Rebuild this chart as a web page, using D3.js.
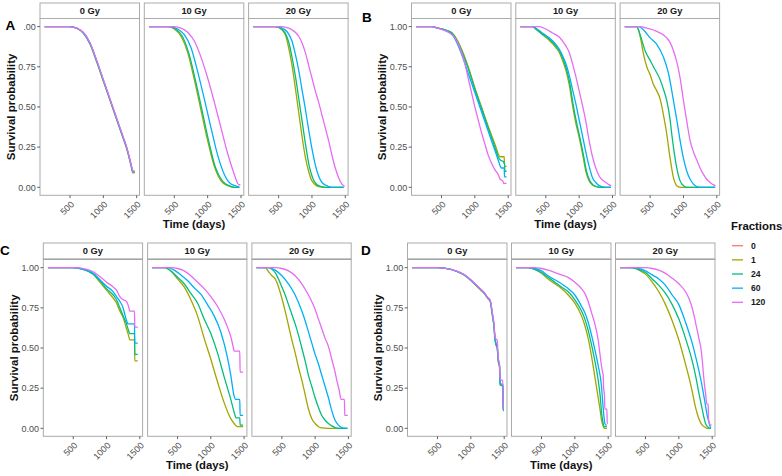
<!DOCTYPE html>
<html><head><meta charset="utf-8">
<script src="https://cdn.jsdelivr.net/npm/d3@7"></script>
<style>body{margin:0;background:#fff}svg{display:block}text{font-family:"Liberation Sans",Arial,sans-serif}</style>
</head><body>
<script>
// ---------- labels / categories ----------
const fractions = ["0","1","24","60","120"];
const fracColors = ["#F8766D","#A3A500","#00BF7D","#00B0F6","#E76BF3"];
const doses = ["0 Gy","10 Gy","20 Gy"];
const yTicks = [0,0.25,0.5,0.75,1];
const xTicks = [500,1000,1500];
const xDomain = [50,1542];

// ---------- data: [day, survival] ----------
// Figure A
const A0_f1   = [[120,1],[500,1],[600,0.99],[700,0.96],[800,0.89],[900,0.78],[1000,0.66],[1100,0.54],[1200,0.42],[1300,0.30],[1350,0.24],[1400,0.16],[1430,0.11],[1440,0.09],[1470,0.09]];
const A0_f24  = [[120,1],[500,1],[600,0.99],[700,0.96],[800,0.895],[900,0.785],[1000,0.665],[1100,0.545],[1200,0.425],[1300,0.305],[1350,0.245],[1400,0.165],[1430,0.11],[1440,0.095],[1470,0.095]];
const A0_f60  = [[120,1],[500,1],[600,0.99],[700,0.962],[800,0.897],[900,0.787],[1000,0.667],[1100,0.547],[1200,0.427],[1300,0.307],[1350,0.247],[1400,0.167],[1430,0.115],[1440,0.10],[1470,0.10]];
const A0_f120 = [[120,1],[500,1],[600,0.99],[700,0.965],[800,0.90],[900,0.79],[1000,0.67],[1100,0.55],[1200,0.43],[1300,0.31],[1350,0.25],[1400,0.17],[1430,0.12],[1440,0.10],[1470,0.10]];

const A10_f1   = [[120,1],[400,1],[500,0.985],[600,0.94],[700,0.84],[800,0.67],[900,0.48],[1000,0.29],[1100,0.13],[1200,0.04],[1300,0.01],[1400,0],[1475,0]];
const A10_f24  = [[120,1],[420,1],[520,0.985],[620,0.94],[720,0.83],[820,0.66],[920,0.47],[1020,0.28],[1120,0.12],[1220,0.04],[1320,0.01],[1400,0],[1475,0]];
const A10_f60  = [[120,1],[450,1],[550,0.985],[650,0.95],[750,0.87],[850,0.72],[950,0.55],[1050,0.37],[1150,0.20],[1250,0.08],[1350,0.02],[1450,0.005],[1475,0]];
const A10_f120 = [[120,1],[500,1],[600,0.99],[700,0.965],[800,0.91],[900,0.81],[1000,0.68],[1100,0.53],[1200,0.37],[1300,0.21],[1400,0.08],[1450,0.025],[1470,0.016],[1490,0.016]];

const A20_f1   = [[120,1],[450,1],[550,0.98],[600,0.95],[650,0.87],[700,0.76],[750,0.62],[800,0.47],[850,0.32],[900,0.19],[950,0.10],[1000,0.04],[1100,0.005],[1200,0],[1475,0]];
const A20_f24  = [[120,1],[460,1],[560,0.98],[610,0.95],[660,0.89],[710,0.79],[760,0.67],[810,0.53],[860,0.39],[910,0.25],[960,0.13],[1010,0.06],[1100,0.01],[1200,0],[1475,0]];
const A20_f60  = [[120,1],[480,1],[580,0.985],[650,0.955],[700,0.91],[750,0.83],[800,0.73],[850,0.61],[900,0.49],[950,0.36],[1000,0.24],[1050,0.14],[1100,0.07],[1150,0.03],[1250,0.005],[1300,0],[1475,0]];
const A20_f120 = [[120,1],[550,1],[650,0.99],[700,0.98],[750,0.965],[800,0.94],[850,0.90],[900,0.84],[950,0.76],[1000,0.68],[1050,0.60],[1100,0.53],[1150,0.45],[1200,0.37],[1250,0.29],[1300,0.20],[1350,0.12],[1400,0.06],[1450,0.02],[1490,0.005]];

// Figure B
const B0_f1   = [[120,1],[350,1],[450,0.99],[550,0.98],[650,0.965],[700,0.94],[800,0.86],[900,0.75],[1000,0.62],[1100,0.50],[1200,0.38],[1300,0.27],[1380,0.19],[1440,0.19],[1445,0.13],[1475,0.13]];
const B0_f24  = [[120,1],[350,1],[450,0.99],[550,0.98],[650,0.962],[700,0.935],[800,0.85],[900,0.74],[1000,0.61],[1100,0.49],[1200,0.37],[1300,0.25],[1350,0.19],[1380,0.17],[1430,0.16],[1435,0.15],[1445,0.15],[1450,0.10],[1475,0.10]];
const B0_f60  = [[120,1],[350,1],[450,0.99],[550,0.978],[650,0.955],[700,0.925],[800,0.83],[900,0.71],[1000,0.59],[1050,0.53],[1100,0.47],[1200,0.35],[1300,0.23],[1350,0.17],[1400,0.12],[1440,0.12],[1445,0.065],[1475,0.065]];
const B0_f120 = [[120,1],[350,1],[450,0.99],[550,0.975],[600,0.965],[700,0.93],[800,0.84],[850,0.77],[900,0.68],[950,0.59],[1000,0.50],[1050,0.42],[1100,0.34],[1150,0.27],[1200,0.20],[1250,0.15],[1300,0.11],[1350,0.08],[1380,0.05],[1420,0.04],[1430,0.025],[1475,0.025]];

const B10_f1   = [[120,1],[300,1],[360,0.98],[450,0.95],[550,0.915],[650,0.87],[700,0.84],[750,0.79],[800,0.73],[850,0.64],[900,0.51],[950,0.40],[1000,0.31],[1050,0.21],[1100,0.10],[1150,0.04],[1200,0.015],[1250,0.005],[1300,0],[1475,0]];
const B10_f24  = [[120,1],[300,1],[370,0.98],[460,0.95],[560,0.92],[660,0.875],[710,0.845],[760,0.795],[810,0.735],[860,0.645],[910,0.515],[960,0.405],[1010,0.31],[1060,0.21],[1110,0.10],[1160,0.04],[1210,0.015],[1260,0.005],[1310,0],[1475,0]];
const B10_f60  = [[120,1],[300,1],[370,0.985],[450,0.96],[550,0.93],[650,0.89],[700,0.86],[750,0.82],[800,0.77],[850,0.70],[900,0.61],[950,0.52],[1000,0.42],[1050,0.32],[1100,0.22],[1150,0.13],[1200,0.06],[1250,0.03],[1300,0.01],[1400,0],[1475,0]];
const B10_f120 = [[120,1],[400,1],[500,0.985],[600,0.96],[700,0.935],[800,0.88],[850,0.84],[900,0.77],[950,0.69],[1000,0.60],[1050,0.51],[1100,0.41],[1150,0.29],[1200,0.19],[1250,0.12],[1300,0.07],[1350,0.045],[1400,0.03],[1450,0.015],[1480,0.01]];

const B20_f1   = [[120,1],[300,1],[325,0.98],[360,0.92],[400,0.83],[450,0.75],[500,0.70],[550,0.64],[600,0.60],[650,0.55],[700,0.45],[750,0.33],[800,0.18],[850,0.06],[900,0.01],[950,0],[1475,0]];
const B20_f24  = [[120,1],[300,1],[350,0.95],[425,0.85],[500,0.79],[550,0.75],[650,0.67],[700,0.61],[750,0.54],[800,0.42],[825,0.33],[860,0.22],[900,0.12],[950,0.04],[1000,0.01],[1050,0],[1475,0]];
const B20_f60  = [[120,1],[330,1],[400,0.98],[500,0.93],[600,0.89],[700,0.81],[775,0.71],[850,0.54],[900,0.42],[950,0.29],[1000,0.18],[1050,0.10],[1100,0.05],[1150,0.02],[1200,0.005],[1250,0],[1475,0]];
const B20_f120 = [[120,1],[350,1],[450,0.99],[600,0.97],[750,0.93],[800,0.90],[850,0.85],[900,0.78],[950,0.68],[1000,0.54],[1050,0.41],[1100,0.29],[1150,0.22],[1200,0.17],[1250,0.12],[1300,0.08],[1350,0.05],[1400,0.03],[1450,0.015],[1480,0.01]];

// Figure C
const C0_f1   = [[120,1],[500,1],[650,0.99],[800,0.96],[900,0.91],[1000,0.86],[1100,0.81],[1150,0.78],[1200,0.73],[1250,0.69],[1300,0.62],[1330,0.58],[1350,0.55],[1420,0.55],[1425,0.42],[1470,0.42]];
const C0_f24  = [[120,1],[500,1],[650,0.99],[800,0.96],[900,0.92],[1000,0.87],[1100,0.83],[1150,0.80],[1200,0.75],[1250,0.70],[1300,0.65],[1330,0.61],[1350,0.59],[1420,0.59],[1425,0.46],[1470,0.46]];
const C0_f60  = [[120,1],[500,1],[650,0.99],[800,0.965],[900,0.925],[1000,0.885],[1100,0.85],[1150,0.82],[1200,0.79],[1250,0.75],[1280,0.70],[1310,0.66],[1320,0.65],[1420,0.65],[1425,0.53],[1470,0.53]];
const C0_f120 = [[120,1],[550,1],[700,0.99],[800,0.975],[900,0.945],[1000,0.91],[1100,0.88],[1150,0.86],[1200,0.82],[1250,0.80],[1300,0.79],[1330,0.76],[1350,0.73],[1420,0.73],[1425,0.63],[1470,0.63]];

const C10_f1   = [[120,1],[300,1],[400,0.98],[500,0.93],[600,0.88],[700,0.80],[800,0.70],[900,0.56],[1000,0.43],[1100,0.29],[1200,0.16],[1300,0.06],[1350,0.03],[1400,0.01],[1485,0.01]];
const C10_f24  = [[120,1],[300,1],[400,0.98],[500,0.94],[600,0.90],[700,0.84],[800,0.78],[900,0.68],[1000,0.59],[1100,0.47],[1200,0.32],[1300,0.18],[1350,0.10],[1380,0.065],[1435,0.065],[1440,0.02],[1485,0.02]];
const C10_f60  = [[120,1],[350,1],[450,0.985],[550,0.955],[650,0.92],[750,0.875],[850,0.835],[950,0.77],[1050,0.70],[1150,0.60],[1250,0.44],[1300,0.33],[1350,0.20],[1370,0.18],[1435,0.18],[1440,0.08],[1485,0.08]];
const C10_f120 = [[120,1],[400,1],[500,0.995],[600,0.98],[700,0.95],[800,0.91],[900,0.87],[1000,0.82],[1100,0.76],[1200,0.68],[1250,0.63],[1300,0.57],[1340,0.50],[1350,0.48],[1435,0.48],[1440,0.35],[1485,0.35]];

const C20_f1   = [[120,1],[250,1],[300,0.975],[350,0.95],[400,0.93],[450,0.88],[500,0.81],[550,0.73],[600,0.64],[650,0.55],[700,0.47],[750,0.38],[800,0.30],[850,0.21],[900,0.12],[950,0.06],[1000,0.03],[1050,0.01],[1100,0.003],[1200,0],[1485,0]];
const C20_f24  = [[120,1],[300,1],[350,0.99],[400,0.97],[450,0.93],[500,0.88],[550,0.83],[600,0.77],[650,0.71],[700,0.65],[750,0.58],[800,0.50],[850,0.42],[900,0.33],[950,0.26],[1000,0.19],[1050,0.13],[1100,0.08],[1150,0.05],[1200,0.03],[1250,0.015],[1300,0.005],[1350,0],[1485,0]];
const C20_f60  = [[120,1],[300,1],[400,0.985],[500,0.95],[600,0.90],[700,0.83],[800,0.73],[850,0.67],[900,0.60],[950,0.53],[1000,0.46],[1050,0.40],[1100,0.33],[1150,0.26],[1200,0.19],[1250,0.11],[1300,0.05],[1350,0.02],[1400,0.005],[1450,0],[1485,0]];
const C20_f120 = [[120,1],[400,1],[500,0.995],[600,0.98],[700,0.95],[800,0.90],[900,0.83],[1000,0.74],[1050,0.68],[1100,0.62],[1150,0.56],[1200,0.51],[1250,0.43],[1300,0.35],[1330,0.29],[1360,0.24],[1390,0.18],[1440,0.18],[1445,0.08],[1490,0.08]];

// Figure D
const D0_f1   = [[120,1],[500,1],[700,0.99],[800,0.975],[900,0.955],[1000,0.92],[1100,0.88],[1150,0.86],[1200,0.84],[1250,0.81],[1290,0.79],[1310,0.74],[1330,0.68],[1345,0.64],[1360,0.56],[1375,0.52],[1395,0.50],[1410,0.42],[1430,0.38],[1440,0.27],[1480,0.26],[1485,0.11],[1490,0.11]];
const D0_f24  = [[120,1],[500,1],[700,0.99],[800,0.975],[900,0.955],[1000,0.922],[1100,0.882],[1150,0.862],[1200,0.842],[1250,0.812],[1290,0.792],[1310,0.745],[1330,0.685],[1345,0.645],[1360,0.565],[1375,0.525],[1395,0.505],[1410,0.425],[1430,0.385],[1440,0.27],[1480,0.265],[1485,0.11],[1490,0.11]];
const D0_f60  = [[120,1],[500,1],[700,0.99],[800,0.976],[900,0.956],[1000,0.923],[1100,0.884],[1150,0.864],[1200,0.844],[1250,0.814],[1290,0.795],[1310,0.75],[1330,0.69],[1345,0.65],[1360,0.57],[1375,0.53],[1395,0.51],[1410,0.43],[1430,0.39],[1440,0.28],[1480,0.27],[1485,0.11],[1490,0.11]];
const D0_f120 = [[120,1],[500,1],[700,0.99],[800,0.977],[900,0.958],[1000,0.925],[1100,0.886],[1150,0.866],[1200,0.846],[1250,0.816],[1290,0.798],[1310,0.755],[1330,0.70],[1345,0.66],[1360,0.58],[1375,0.555],[1395,0.55],[1410,0.44],[1430,0.40],[1440,0.30],[1480,0.30],[1485,0.12],[1490,0.12]];

const D10_f1   = [[120,1],[300,1],[400,0.99],[500,0.965],[600,0.93],[700,0.90],[800,0.87],[900,0.83],[1000,0.78],[1100,0.70],[1150,0.64],[1200,0.56],[1250,0.45],[1300,0.32],[1350,0.19],[1380,0.11],[1400,0.05],[1420,0.02],[1440,0],[1480,0]];
const D10_f24  = [[120,1],[300,1],[400,0.99],[500,0.97],[600,0.94],[700,0.91],[800,0.88],[900,0.85],[1000,0.80],[1100,0.73],[1150,0.68],[1200,0.61],[1250,0.52],[1300,0.42],[1350,0.30],[1380,0.20],[1400,0.10],[1420,0.04],[1440,0.01],[1480,0.01]];
const D10_f60  = [[120,1],[300,1],[400,0.995],[500,0.98],[600,0.95],[700,0.925],[800,0.90],[900,0.87],[1000,0.83],[1100,0.76],[1150,0.72],[1200,0.66],[1250,0.58],[1300,0.49],[1350,0.39],[1400,0.26],[1420,0.15],[1440,0.06],[1450,0.03],[1470,0.02],[1480,0.02]];
const D10_f120 = [[120,1],[400,1],[500,0.995],[600,0.985],[700,0.97],[800,0.955],[900,0.94],[1000,0.91],[1100,0.87],[1150,0.84],[1200,0.79],[1250,0.72],[1300,0.65],[1350,0.55],[1380,0.45],[1410,0.36],[1425,0.33],[1430,0.26],[1445,0.20],[1450,0.12],[1480,0.12],[1485,0.03],[1495,0.03]];

const D20_f1   = [[120,1],[250,1],[350,0.995],[400,0.985],[500,0.96],[600,0.91],[700,0.85],[800,0.77],[900,0.67],[1000,0.55],[1100,0.40],[1150,0.32],[1200,0.23],[1250,0.13],[1300,0.06],[1350,0.02],[1400,0.005],[1420,0],[1480,0]];
const D20_f24  = [[120,1],[300,1],[400,0.99],[500,0.97],[600,0.93],[700,0.89],[800,0.84],[900,0.77],[1000,0.68],[1100,0.56],[1200,0.42],[1250,0.33],[1300,0.22],[1350,0.12],[1380,0.06],[1400,0.03],[1430,0.01],[1460,0],[1480,0]];
const D20_f60  = [[120,1],[300,1],[400,0.995],[500,0.98],[600,0.955],[700,0.93],[800,0.89],[900,0.83],[1000,0.77],[1100,0.66],[1200,0.53],[1250,0.45],[1300,0.36],[1350,0.26],[1400,0.14],[1430,0.07],[1450,0.04],[1470,0.01],[1480,0]];
const D20_f120 = [[120,1],[500,1],[600,0.995],[700,0.985],[800,0.965],[900,0.935],[1000,0.90],[1100,0.85],[1150,0.81],[1200,0.75],[1250,0.66],[1300,0.56],[1330,0.50],[1350,0.43],[1370,0.33],[1390,0.25],[1400,0.22],[1420,0.15],[1440,0.15],[1445,0.06],[1460,0.03],[1480,0.02],[1490,0.02]];

// assemble: figure -> dose panel -> series for fractions 1,24,60,120
const figureSeries = {
  A: [[A0_f1,A0_f24,A0_f60,A0_f120],[A10_f1,A10_f24,A10_f60,A10_f120],[A20_f1,A20_f24,A20_f60,A20_f120]],
  B: [[B0_f1,B0_f24,B0_f60,B0_f120],[B10_f1,B10_f24,B10_f60,B10_f120],[B20_f1,B20_f24,B20_f60,B20_f120]],
  C: [[C0_f1,C0_f24,C0_f60,C0_f120],[C10_f1,C10_f24,C10_f60,C10_f120],[C20_f1,C20_f24,C20_f60,C20_f120]],
  D: [[D0_f1,D0_f24,D0_f60,D0_f120],[D10_f1,D10_f24,D10_f60,D10_f120],[D20_f1,D20_f24,D20_f60,D20_f120]]
};

// ---------- layout ----------
const W = 782, H = 476;
const rows = {
  1: {stripTop: 3, stripBot: 18.5, y0: 187.3, y1: 26.6, bot: 195.3},
  2: {stripTop: 243, stripBot: 259.3, y0: 428.3, y1: 267.7, bot: 436.3}
};
const figs = [
  {id: "A", row: 1, left: 40,    w: 99.5, gap: 4.8, lx: 5.5, ly: 30},
  {id: "B", row: 1, left: 411.5, w: 99.5, gap: 4.8, lx: 362, ly: 22},
  {id: "C", row: 2, left: 43.3,  w: 99.3, gap: 5.0, lx: 0,   ly: 255},
  {id: "D", row: 2, left: 407.5, w: 99.5, gap: 4.5, lx: 361, ly: 255}
];

const svg = d3.select("body").append("svg").attr("width", W).attr("height", H);
svg.append("rect").attr("width", W).attr("height", H).attr("fill", "#fff");
const defs = svg.append("defs");

// clip for the partially hidden top tick label of A
const cA = defs.append("clipPath").attr("id", "clipA");
cA.append("rect").attr("x", 24).attr("y", 0).attr("width", W).attr("height", H);
cA.append("rect").attr("x", 0).attr("y", 36).attr("width", W).attr("height", H);

const drawOrder = [1, 2, 3, 4];

function drawFigure(f) {
  const r = rows[f.row];
  const g = svg.append("g");
  const y = d3.scaleLinear().domain([0, 1]).range([r.y0, r.y1]);

  doses.forEach((dose, di) => {
    const x0 = f.left + di * (f.w + f.gap);
    const x = d3.scaleLinear().domain(xDomain).range([x0, x0 + f.w]);
    const pg = g.append("g");

    // strip
    pg.append("rect").attr("x", x0).attr("y", r.stripTop).attr("width", f.w).attr("height", r.stripBot - r.stripTop)
      .attr("fill", "#fff").attr("stroke", "#ababab").attr("stroke-width", 1);
    pg.append("line").attr("x1", x0).attr("x2", x0 + f.w).attr("y1", r.stripBot).attr("y2", r.stripBot)
      .attr("stroke", "#7a7a7a").attr("stroke-width", 1.1);
    pg.append("text").attr("x", x0 + f.w / 2).attr("y", (r.stripTop + r.stripBot) / 2 + 3.3)
      .attr("text-anchor", "middle").attr("font-size", 9.3).attr("font-weight", "bold").attr("fill", "#1a1a1a").text(dose);

    // clip for lines
    const cid = "clip" + f.id + di;
    defs.append("clipPath").attr("id", cid).append("rect")
      .attr("x", x0).attr("y", r.stripBot).attr("width", f.w).attr("height", r.bot - r.stripBot);

    const line = d3.line().x(d => x(d[0])).y(d => y(d[1])).curve(d3.curveMonotoneX);
    const seriesSet = figureSeries[f.id][di];
    drawOrder.forEach((fi, k) => {
      pg.append("path").datum(seriesSet[k]).attr("d", line)
        .attr("fill", "none").attr("stroke", fracColors[fi]).attr("stroke-width", 1.3)
        .attr("clip-path", `url(#${cid})`);
    });

    // panel border
    pg.append("rect").attr("x", x0).attr("y", r.stripBot).attr("width", f.w).attr("height", r.bot - r.stripBot)
      .attr("fill", "none").attr("stroke", "#ababab").attr("stroke-width", 1);

    // x axis
    const xa = pg.append("g");
    xTicks.forEach(t => {
      xa.append("line").attr("x1", x(t)).attr("x2", x(t)).attr("y1", r.bot).attr("y2", r.bot + 2.8)
        .attr("stroke", "#4d4d4d").attr("stroke-width", 0.9);
      xa.append("text").attr("transform", `translate(${x(t) + 1.5},${r.bot + 6.5}) rotate(-45)`)
        .attr("text-anchor", "end").attr("dy", "0.5em").attr("font-size", 9).attr("fill", "#4d4d4d").text(t);
    });

    // y axis on first panel
    if (di === 0) {
      const ya = pg.append("g");
      const lab = ya.append("g");
      if (f.id === "A") lab.attr("clip-path", "url(#clipA)");
      yTicks.forEach(t => {
        ya.append("line").attr("x1", x0 - 2.8).attr("x2", x0).attr("y1", y(t)).attr("y2", y(t))
          .attr("stroke", "#4d4d4d").attr("stroke-width", 0.9);
        lab.append("text").attr("x", x0 - 4.3).attr("y", y(t)).attr("dy", "0.36em")
          .attr("text-anchor", "end").attr("font-size", 9).attr("fill", "#4d4d4d").text(d3.format(".2f")(t));
      });
    }
  });

  const xLeft = f.left, xRight = f.left + 3 * f.w + 2 * f.gap;
  // axis titles
  g.append("text").attr("x", (xLeft + xRight) / 2).attr("y", r.bot + 32.7)
    .attr("text-anchor", "middle").attr("font-size", 11.3).attr("font-weight", "bold").attr("fill", "#111").text("Time (days)");
  g.append("text").attr("transform", `translate(${f.left - 25.5},${(r.stripBot + r.bot) / 2}) rotate(-90)`)
    .attr("text-anchor", "middle").attr("font-size", 11.5).attr("font-weight", "bold").attr("fill", "#111").text("Survival probability");
  // panel letter
  g.append("text").attr("x", f.lx).attr("y", f.ly).attr("font-size", 13.5).attr("font-weight", "bold").attr("fill", "#000").text(f.id);
}

drawFigure(figs[0]);
drawFigure(figs[1]);
// the lower figures sit over the bottom of the upper ones
svg.append("rect").attr("x", 0).attr("y", 230.5).attr("width", 725).attr("height", 10).attr("fill", "#fff");
drawFigure(figs[2]);
drawFigure(figs[3]);

// legend
const lg = svg.append("g");
lg.append("text").attr("x", 731).attr("y", 230).attr("font-size", 11.4).attr("font-weight", "bold").attr("fill", "#111").text("Fractions");
fractions.forEach((fr, i) => {
  const yy = 245.7 + i * 14.15;
  lg.append("line").attr("x1", 732).attr("x2", 743).attr("y1", yy).attr("y2", yy)
    .attr("stroke", fracColors[i]).attr("stroke-width", 1.3);
  lg.append("text").attr("x", 751).attr("y", yy).attr("dy", "0.36em").attr("font-size", 8.6)
    .attr("font-weight", "bold").attr("fill", "#1a1a1a").text(fr);
});
</script>
</body></html>
